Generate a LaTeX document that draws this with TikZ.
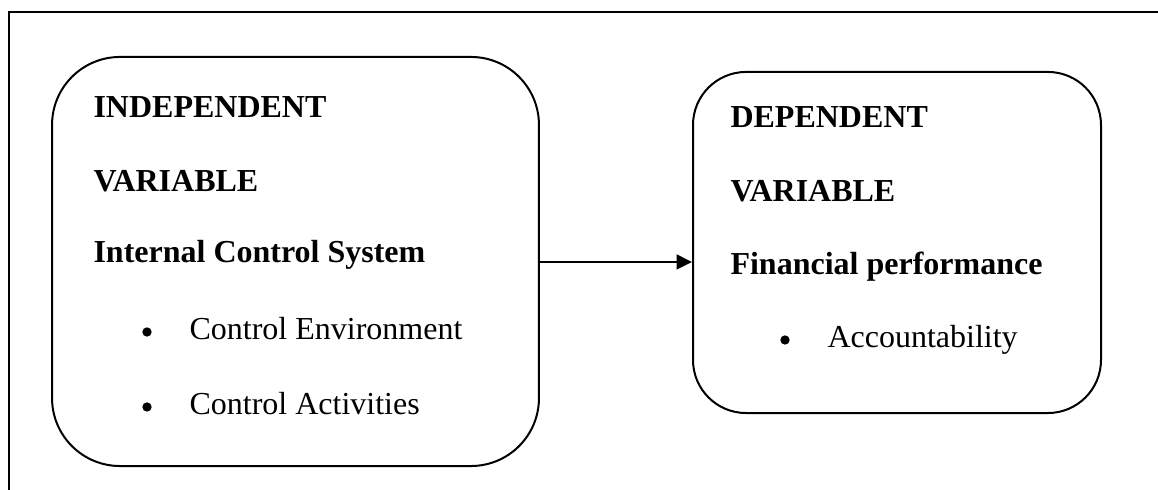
\documentclass[tikz,border=0pt]{standalone}
\usepackage{fontspec}
\setmainfont{Liberation Serif}
\usetikzlibrary{arrows.meta}
\begin{document}
\begin{tikzpicture}[x=0.375pt,y=-0.375pt,
  box/.style={draw, line width=0.75pt, rounded corners=#1, inner sep=0pt},
  head/.style={anchor=base west, inner sep=0pt, font=\fontsize{12}{14}\selectfont\bfseries},
  item/.style={anchor=base west, inner sep=0pt, font=\fontsize{12}{14}\selectfont},
  bul/.style={circle, fill, inner sep=0pt, minimum size=3.5pt},
  conn/.style={line width=0.75pt, -{Triangle[length=5.8pt,width=5.6pt]}}]
\useasboundingbox (0,0) rectangle (1158,490);
% outer frame (cropped)
\coordinate (ftr) at (1158,12);
\coordinate (ftl) at (9,12);
\coordinate (fbl) at (9,490);
\draw[line width=0.75pt] (ftr) -- (ftl) -- (fbl);
% boxes
\node[box=25.5pt, minimum width=182.6pt, minimum height=153.4pt] (lb) at (295.5,261.5) {};
\node[box=19.9pt, minimum width=153pt, minimum height=127.9pt] (rb) at (897,242.5) {};
% left box text
\node[head] (l1) at (93,118) {INDEPENDENT};
\node[head] (l2) at (93,192) {VARIABLE};
\node[head] (l3) at (93,263) {Internal Control System};
\node[bul] (lb1) at (147,332) {};
\node[item] (l4) at (189,340) {Control Environment};
\node[bul] (lb2) at (147,407) {};
\node[item] (l5) at (189,415) {Control Activities};
% right box text
\node[head] (r1) at (730,128) {DEPENDENT};
\node[head] (r2) at (730,202) {VARIABLE};
\node[head] (r3) at (730,275) {Financial performance};
\node[bul] (rb1) at (785,340) {};
\node[item] (r4) at (827,348) {Accountability};
% arrow
\coordinate (as) at (lb.east |- 0,262);
\draw[conn] (as) -- (as -| rb.west);
\end{tikzpicture}
\end{document}
